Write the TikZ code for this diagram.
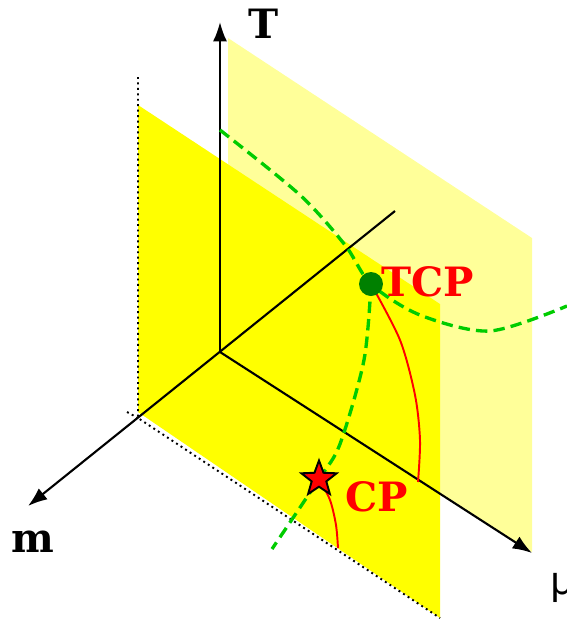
\documentclass[tikz,border=0pt]{standalone}
\usepackage{fontspec}
\newfontfamily\mufont{DejaVu Sans}
\newfontfamily\labelfont{DejaVu Serif}
\usepackage{xcolor}
\usetikzlibrary{arrows.meta}
\usetikzlibrary{shapes.geometric}
\definecolor{paleyellow}{RGB}{255,255,153}
\definecolor{planeyellow}{RGB}{255,255,0}
\definecolor{dashgreen}{RGB}{0,204,0}
\definecolor{dotgreen}{RGB}{0,128,0}

\begin{document}
\begin{tikzpicture}[x=0.02cm,y=-0.02cm]
\tikzset{
axislabel/.style={font=\labelfont\fontsize{23}{27}\selectfont\bfseries},
pointlabel/.style={font=\labelfont\fontsize{23}{27}\selectfont\bfseries, text=red},
axisline/.style={-{Latex[length=11pt,width=8pt]}, line width=1.2},
greendash/.style={color=dashgreen, line width=1.9, dash pattern=on 6.5pt off 3.5pt},
redline/.style={color=red, line width=1.1},
}
\useasboundingbox (0,0) rectangle (567,620);

\coordinate (O) at (220,352);
\coordinate (Ttip) at (220,22);
\coordinate (mtip) at (28,506);
\coordinate (mback) at (395,211);
\coordinate (mutip) at (532,553);
\coordinate (tcppos) at (371,284);
\coordinate (cppos) at (319,479);

% the two planes
\fill[color=paleyellow] (228,38) -- (532,238) -- (532,552) -- (228,357) -- cycle;
\fill[color=planeyellow] (138,105) -- (440,304) -- (440,618) -- (138,412) -- cycle;
\draw[dotted, line width=1.1] (138,77) -- (138,418) -- (440,618);
\draw[dotted, line width=1.1] (127,412) -- (138,418);

% axes
\draw[axisline] (O) -- (Ttip);
\draw[axisline] (mback) -- (mtip);
\draw[axisline] (O) -- (mutip);

% phase lines
\draw[greendash] plot [smooth] coordinates {(220,130) (300,195) (345,245) (tcppos) (420,315) (490,331) (567,306)};
\draw[greendash] plot [smooth] coordinates {(tcppos) (364,360) (340,444) (cppos) (272,549)};
\draw[redline] plot [smooth] coordinates {(tcppos) (400,340) (415,395) (420,440) (418,482)};
\draw[redline] plot [smooth] coordinates {(cppos) (330,500) (336,525) (338,548)};

\node[circle, fill=dotgreen, inner sep=0, minimum size=0.48cm] (tcp) at (tcppos) {};
\node[star, star points=5, star point ratio=2.4, fill=red, draw=black, line width=1.1, inner sep=0, minimum size=0.74cm] (cp) at (cppos) {};

\node[axislabel] (Tlabel) at (264,24) {T};
\node[axislabel] (mlabel) at (33,542) {m};
\node[font=\mufont\fontsize{22}{26}\selectfont] (mulabel) at (563,588) {μ};
\node[pointlabel] (tcplabel) at (428,282) {TCP};
\node[pointlabel] (cplabel) at (377,497) {CP};
\end{tikzpicture}
\end{document}
